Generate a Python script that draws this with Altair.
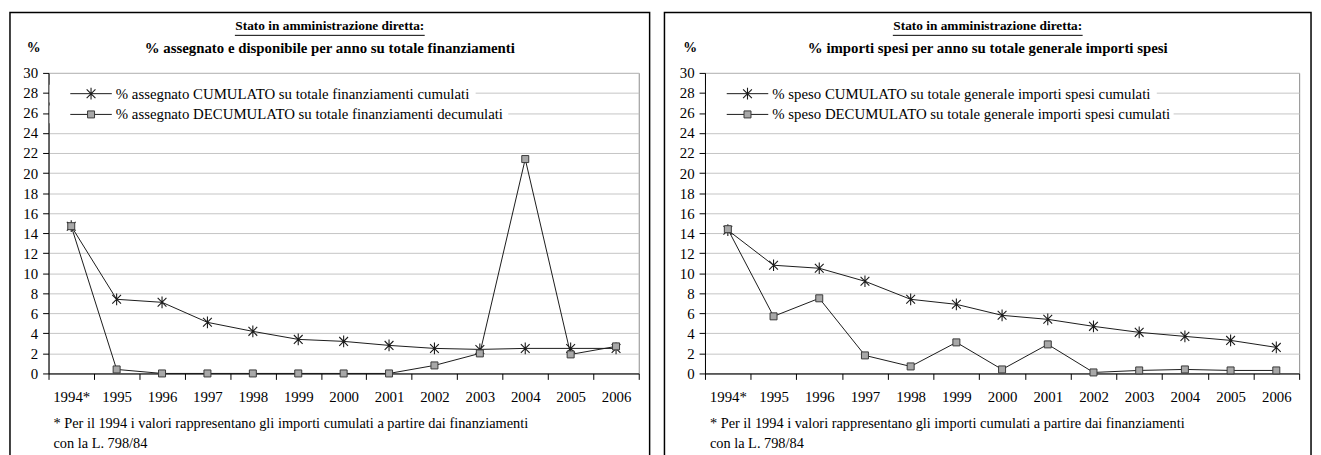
import altair as alt
import pandas as pd

# ---------------- data ----------------
years = ["1994*", "1995", "1996", "1997", "1998", "1999", "2000",
         "2001", "2002", "2003", "2004", "2005", "2006"]
y_ticks = list(range(0, 31, 2))

assegnato_cum = [14.7, 7.4, 7.1, 5.1, 4.2, 3.4, 3.2, 2.8, 2.5, 2.4, 2.5, 2.5, 2.5]
assegnato_decum = [14.7, 0.4, 0.0, 0.0, 0.0, 0.0, 0.0, 0.0, 0.8, 2.0, 21.4, 1.9, 2.7]
speso_cum = [14.3, 10.8, 10.5, 9.2, 7.4, 6.9, 5.8, 5.4, 4.7, 4.1, 3.7, 3.3, 2.6]
speso_decum = [14.4, 5.7, 7.5, 1.8, 0.7, 3.1, 0.4, 2.9, 0.1, 0.3, 0.4, 0.3, 0.3]

title_line1 = ["Stato in amministrazione diretta:", "Stato in amministrazione diretta:"]
title_line2 = ["% assegnato e disponibile per anno su totale finanziamenti",
               "% importi spesi per anno su totale generale importi spesi"]
legend_cum = ["% assegnato CUMULATO su totale finanziamenti cumulati",
              "% speso CUMULATO su totale generale importi spesi cumulati"]
legend_decum = ["% assegnato DECUMULATO su totale finanziamenti decumulati",
                "% speso DECUMULATO su totale generale importi spesi cumulati"]
footnote = ["* Per il 1994 i valori rappresentano gli importi cumulati a partire dai finanziamenti",
            "con la L. 798/84"]
unit_label = "%"

# ---------------- style ----------------
FONT = "Times New Roman, Liberation Serif, Times, serif"
INK = "#1a1a1a"
STAR = "M0,-1L0,1M-0.75,-0.75L0.75,0.75M-0.75,0.75L0.75,-0.75"
H = 304


def one(text):
    return pd.DataFrame({"t": [text]})


def text_layer(text, x, y, size, bold=False, align="left"):
    return alt.Chart(one(text)).mark_text(
        font=FONT, fontSize=size, fontWeight="bold" if bold else "normal",
        align=align, baseline="middle", color="black"
    ).encode(text="t:N", x=alt.value(x), y=alt.value(y))


def panel(idx, cum, decum, W, bl, br, ul_w, white1, white2):
    df = pd.DataFrame({
        "anno": years + years,
        "valore": cum + decum,
        "serie": ["cum"] * len(years) + ["decum"] * len(years),
    })
    base = alt.Chart(df)
    X = alt.X("anno:N", sort=years, bandPosition=0.5,
              scale=alt.Scale(type="band", paddingInner=0, paddingOuter=0),
              axis=alt.Axis(title=None, labelAngle=0, tickBand="extent", grid=False,
                            tickSize=6, labelPadding=10, domainColor="black",
                            tickColor="black"))
    Y = alt.Y("valore:Q", scale=alt.Scale(domain=[0, 30], nice=False),
              axis=alt.Axis(title=None, values=y_ticks, grid=True, gridColor="#c4c4c4",
                            tickSize=6, labelPadding=5, domainColor="black",
                            tickColor="black"))

    lines = base.mark_line(color=INK, strokeWidth=1).encode(x=X, y=Y, detail="serie:N")
    stars = base.transform_filter(alt.datum.serie == "cum").mark_point(
        shape=STAR, filled=False, stroke=INK, strokeWidth=1.1, size=140, opacity=1
    ).encode(x=X, y=Y)
    squares = base.transform_filter(alt.datum.serie == "decum").mark_point(
        shape="square", filled=True, fill="#a8a8a8", stroke="#3a3a3a",
        strokeWidth=1, size=50, opacity=1
    ).encode(x=X, y=Y)

    dot = one("")
    layers = [lines, stars, squares]
    # legend (white backgrounds, samples, texts)
    for row_y, wid in ((21, white1), (42, white2)):
        layers.append(alt.Chart(dot).mark_rect(fill="white").encode(
            x=alt.value(1), x2=alt.value(wid), y=alt.value(row_y - 9), y2=alt.value(row_y + 9)))
        layers.append(alt.Chart(dot).mark_rule(color=INK, strokeWidth=1).encode(
            x=alt.value(22), x2=alt.value(64), y=alt.value(row_y)))
    layers.append(alt.Chart(dot).mark_point(
        shape=STAR, filled=False, stroke=INK, strokeWidth=1.1, size=140, opacity=1
    ).encode(x=alt.value(43), y=alt.value(21)))
    layers.append(alt.Chart(dot).mark_point(
        shape="square", filled=True, fill="#a8a8a8", stroke="#3a3a3a",
        strokeWidth=1, size=50, opacity=1
    ).encode(x=alt.value(43), y=alt.value(42)))
    layers.append(text_layer(legend_cum[idx], 68, 21, 15))
    layers.append(text_layer(legend_decum[idx], 68, 42, 15))

    # titles
    cx = (bl + br) / 2
    layers.append(text_layer(title_line1[idx], cx, -47, 13.5, bold=True, align="center"))
    layers.append(alt.Chart(dot).mark_rule(color="black", strokeWidth=1).encode(
        x=alt.value(cx - ul_w / 2), x2=alt.value(cx + ul_w / 2), y=alt.value(-38)))
    layers.append(text_layer(title_line2[idx], cx, -25, 15, bold=True, align="center"))
    layers.append(text_layer(unit_label, -15, -25, 14, bold=True, align="center"))

    # footnote
    layers.append(text_layer(footnote[0], 5, 355, 14.5))
    layers.append(text_layer(footnote[1], 5, 375, 14.5))

    # panel border
    layers.append(alt.Chart(dot).mark_rect(fillOpacity=0, stroke="black", strokeWidth=1.5).encode(
        x=alt.value(bl), x2=alt.value(br), y=alt.value(-61), y2=alt.value(395)))

    return alt.layer(*layers).properties(width=W, height=H)


left = panel(0, assegnato_cum, assegnato_decum, 597, -39, 608, 192, 432, 465)
right = panel(1, speso_cum, speso_decum, 601, -41, 613, 192, 457, 474)

chart = alt.hconcat(left, right, spacing=11).configure(
    padding={"left": 0, "top": 0, "right": 0, "bottom": 0}
).configure_view(stroke="#8c8c8c", strokeWidth=1).configure_axis(
    labelFont=FONT, labelFontSize=15, labelColor="black"
)

chart.save("out.html", embed_options={"renderer": "svg", "actions": False})
